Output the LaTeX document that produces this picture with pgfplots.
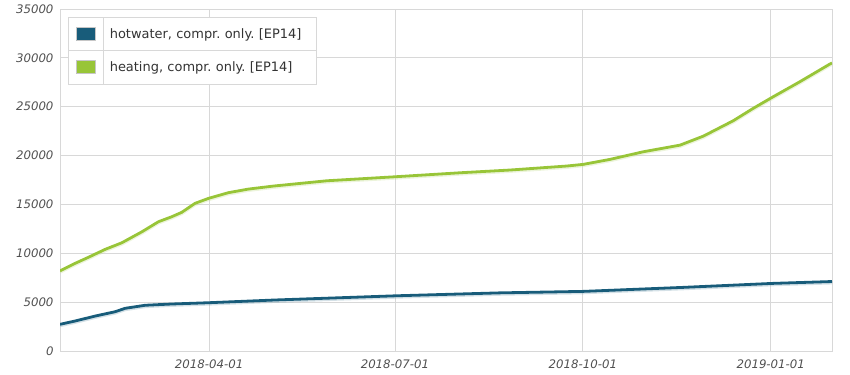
\documentclass[border=0pt]{standalone}
\usepackage{fontspec}
\setmainfont{DejaVu Sans}
\usepackage{pgfplots}
\pgfplotsset{compat=1.18}
\frenchspacing
\definecolor{hw}{RGB}{24,92,122}
\definecolor{ht}{RGB}{152,197,56}
\definecolor{gridc}{RGB}{216,216,216}
\definecolor{tickc}{RGB}{80,80,80}
\definecolor{textc}{RGB}{51,51,51}
\begin{document}
\begin{tikzpicture}
\begin{axis}[
  at={(0,0)}, anchor=south west,
  scale only axis, width=772bp, height=342bp,
  xmin=17, xmax=395, ymin=0, ymax=35000,
  xtick={90,181,273,365},
  xticklabels={2018-04-01,2018-07-01,2018-10-01,2019-01-01},
  ytick={0,5000,10000,15000,20000,25000,30000,35000},
  scaled y ticks=false,
  /pgf/number format/assume math mode=true,
  /pgf/number format/1000 sep={},
  grid=major,
  major grid style={gridc, line width=0.8bp},
  axis line style={gridc, line width=0.8bp},
  major tick length=0pt,
  ticklabel style={font=\fontsize{11.8}{13}\selectfont\itshape, text=tickc},
  yticklabel style={xshift=-3bp},
  xticklabel style={yshift=-5bp},
  legend cell align=left,
  legend style={at={(0,1)}, anchor=north west, xshift=8bp, yshift=-8bp,
    draw=gridc, line width=0.8bp, inner sep=0pt, row sep=0pt, column sep=0pt,
    fill=white, font=\fontsize{13}{15}\selectfont, text=textc,
    nodes={inner xsep=6bp, inner ysep=0pt, minimum height=32.5bp,
      text width=201bp, align=left, anchor=west}},
]
\addplot[ht!60!white, line width=3.4bp, line join=round, opacity=0.3, forget plot, yshift=-1.2bp] coordinates {
(17,8200)(24.4,8970)(30.9,9590)(39.1,10400)(47.3,11080)(57.1,12200)(65.2,13230)(71.7,13740)(76.6,14190)(83.1,15110)(89.7,15620)(99.4,16200)(109.2,16570)(121.5,16880)(147.6,17420)(181,17830)(212.9,18240)(237.3,18520)(265.1,18930)(273.2,19100)(286.3,19610)(302.6,20390)(320.6,21070)(332,21990)(346.6,23560)(356.4,24830)(366.2,26020)(379.2,27550)(393.9,29360)(395,29480)
};
\addplot[hw!60!white, line width=3.4bp, line join=round, opacity=0.3, forget plot, yshift=-1.2bp] coordinates {
(17,2730)(24.4,3070)(34.3,3580)(44,4020)(48.9,4370)(58.7,4680)(71.7,4810)(89.7,4940)(122.3,5220)(181.5,5650)(232.4,5950)(273.1,6100)(322,6510)(366.1,6920)(395,7110)
};
\addplot[hw, line width=2.8bp, line join=round,
  legend image code/.code={
    \path[draw=none, fill=none] (0,-16.25bp) rectangle (35bp,16.25bp);
    \draw[gridc, line width=0.8bp] (35bp,-16.25bp) -- (35bp,16.25bp);
    \draw[gridc, line width=0.8bp, overlay] (0,-16.25bp) -- (248bp,-16.25bp);
    \filldraw[fill=hw, draw=gray!45, line width=0.8bp] (8bp,-6.5bp) rectangle (27bp,6.5bp);
  }] coordinates {
(17,2730)(24.4,3070)(34.3,3580)(44,4020)(48.9,4370)(58.7,4680)(71.7,4810)(89.7,4940)(122.3,5220)(181.5,5650)(232.4,5950)(273.1,6100)(322,6510)(366.1,6920)(395,7110)
};
\addlegendentry{hotwater, compr. only. [EP14]}
\addplot[ht, line width=2.8bp, line join=round,
  legend image code/.code={
    \path[draw=none, fill=none] (0,-16.25bp) rectangle (35bp,16.25bp);
    \draw[gridc, line width=0.8bp] (35bp,-16.25bp) -- (35bp,16.25bp);
    \filldraw[fill=ht, draw=gray!45, line width=0.8bp] (8bp,-6.5bp) rectangle (27bp,6.5bp);
  }] coordinates {
(17,8200)(24.4,8970)(30.9,9590)(39.1,10400)(47.3,11080)(57.1,12200)(65.2,13230)(71.7,13740)(76.6,14190)(83.1,15110)(89.7,15620)(99.4,16200)(109.2,16570)(121.5,16880)(147.6,17420)(181,17830)(212.9,18240)(237.3,18520)(265.1,18930)(273.2,19100)(286.3,19610)(302.6,20390)(320.6,21070)(332,21990)(346.6,23560)(356.4,24830)(366.2,26020)(379.2,27550)(393.9,29360)(395,29480)
};
\addlegendentry{heating, compr. only. [EP14]}
\end{axis}
\pgfresetboundingbox
\path[use as bounding box] (-60bp,-24bp) rectangle (790bp,351bp);
\end{tikzpicture}
\end{document}
